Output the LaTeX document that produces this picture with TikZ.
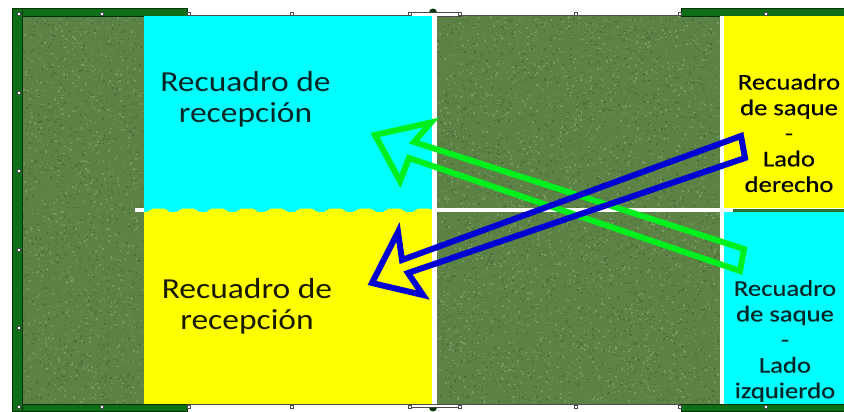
\documentclass[tikz,border=0pt]{standalone}
\usepackage{fontspec}
\setmainfont{Carlito}
\newfontfamily\widefont[FakeStretch=1.155]{Carlito}
\newfontfamily\sidefont[FakeStretch=1.185,FakeBold=0.4]{Carlito}
\definecolor{grass}{RGB}{92,130,70}
\definecolor{grasslight}{RGB}{118,152,94}
\definecolor{grassdark}{RGB}{76,114,58}
\definecolor{strip}{RGB}{14,110,24}
\definecolor{boxcyan}{RGB}{0,255,255}
\definecolor{boxyellow}{RGB}{255,255,0}
\definecolor{arrowblue}{RGB}{0,0,210}
\definecolor{arrowgreen}{RGB}{0,240,30}
\newcommand{\turfspecks}[5]{%
  \pgfsetfillcolor{#1}%
  \foreach \speck in {1,...,#2}{%
    \pgfmathsetmacro\speckx{#3+rnd*(#4-#3)}%
    \pgfmathsetmacro\specky{rnd*#5}%
    \pgfpathrectangle{\pgfqpoint{\speckx pt}{-\specky pt}}{\pgfqpoint{1.5pt}{1.5pt}}%
    \pgfusepath{fill}%
  }%
}
\tikzset{
        band/.style={draw=black!80!green, line width=0.5pt, fill=strip},
        cyanbox/.style={fill=boxcyan},
        yellowbox/.style={fill=boxyellow},
        courtline/.style={fill=white},
        peg/.style={draw=black!70, line width=0.5pt, fill=white, minimum size=3pt, inner sep=0pt},
        rectext/.style={align=center, text=black!85!boxcyan, font=\widefont\fontsize{29}{31}\selectfont},
        sidetext/.style={align=center, font=\sidefont\fontsize{22.5}{25.6}\selectfont},
        bluearrow/.style={draw=arrowblue, line width=6pt, miter limit=10},
        greenarrow/.style={draw=arrowgreen, line width=6pt, miter limit=10}
          }
\begin{document}
\begin{tikzpicture}[x=1pt,y=-1pt]
        \useasboundingbox (0,0) rectangle (844,412);
        \fill[grass] (22,16) rectangle (720,404);
        \begin{scope}[shift={(0,17)}]
          \pgfmathsetseed{7}
          \turfspecks{grasslight}{1000}{22}{142}{386}
          \turfspecks{grassdark}{1000}{22}{142}{386}
          \turfspecks{grasslight}{2500}{437}{718}{386}
          \turfspecks{grassdark}{2500}{437}{718}{386}
        \end{scope}
        \draw[band] (12,8) rectangle (187,16);
        \draw[band] (12,404) rectangle (187,411);
        \draw[band] (681,8) rectangle (845,16);
        \draw[band] (681,404) rectangle (845,411);
        \draw[band] (12,8) rectangle (22,411);
        \draw[black!70, line width=1pt] (187,16) -- (681,16);
        \draw[black!70, line width=1pt] (187,404) -- (681,404);
        \draw[black!70, line width=0.7pt, fill=white] (408,12.5) rectangle (461,16);
        \draw[black!70, line width=0.7pt, fill=white] (408,404) rectangle (461,407.5);
        \fill[strip!50!black] (429,12.5) arc[start angle=180, end angle=0, radius=4pt] -- cycle;
        \fill[strip!50!black] (429,407.5) arc[start angle=180, end angle=360, radius=4pt] -- cycle;
        \foreach \pegy in {93,171,250,328}
          \node[peg] at (19,\pegy) {};
        \foreach \pegx in {19,102,189,292,410,460,576,680,766}{
          \node[peg] at (\pegx,14) {};
          \node[peg] at (\pegx,407) {};
        }
        \fill[cyanbox] (144,16) rectangle (432,212);
        \fill[yellowbox] (144,212) rectangle (432,404);
        \foreach \bumpx in {0,...,9}
          \fill[yellowbox] (147+\bumpx*29.5,212) -- (153+\bumpx*29.5,208.5) -- (164+\bumpx*29.5,208.5) -- (170+\bumpx*29.5,212) -- cycle;
        \fill[yellowbox] (724,16) rectangle (844,208);
        \fill[cyanbox] (724,212) rectangle (844,404);
        \fill[strip!70!grass] (733,208.5) rectangle (844,212);
        \fill[courtline] (432,16) rectangle (437,404);
        \fill[courtline] (720,16) rectangle (724,404);
        \fill[courtline] (135,208) rectangle (144,212);
        \fill[courtline] (437,208) rectangle (733,212);
        \node[rectext] (recepcionA) at (245.5,99) {Recuadro de\\recepción};
        \node[rectext, text=black!90!boxyellow] (recepcionB) at (247,306) {Recuadro de\\recepción};
        \node[sidetext, text=black] (saqueA) at (789,133) {Recuadro\\de saque\\-\\Lado\\derecho};
        \node[sidetext, text=black!85!boxcyan] (saqueB) at (785,341) {Recuadro\\de saque\\-\\Lado\\izquierdo};
        \draw[greenarrow] (375,135) -- (431,122.5) -- (414,142) -- (744,249) -- (740,271) -- (409,158) -- (400,181) -- cycle;
        \draw[bluearrow] (741,136) -- (402,260) -- (398,232) -- (372,283) -- (423,295) -- (408,273) -- (745,158) -- cycle;
      \end{tikzpicture}
\end{document}
